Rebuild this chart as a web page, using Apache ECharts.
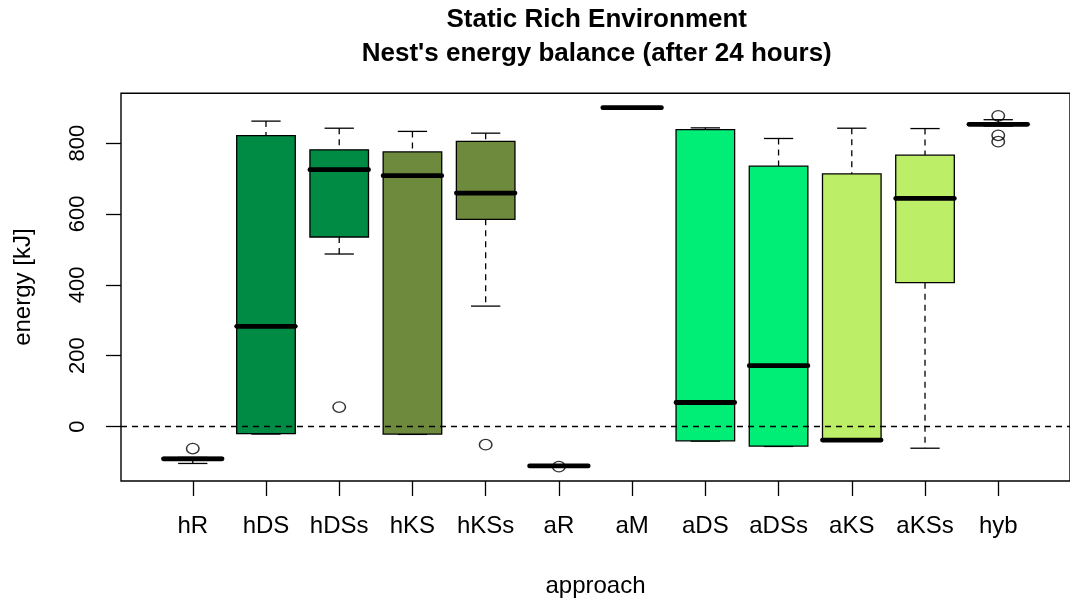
<!DOCTYPE html>
<html><head><meta charset="utf-8">
<script src="https://cdn.jsdelivr.net/npm/echarts@6/dist/echarts.min.js"></script>
<style>html,body{margin:0;padding:0;background:#fff}#c{width:1070px;height:603px}</style>
</head><body><div id="c"></div>
<script>
// ---- data ----
const categories   = ['hR','hDS','hDSs','hKS','hKSs','aR','aM','aDS','aDSs','aKS','aKSs','hyb'];
const whiskerLow   = [-104, -21, 487, -22, 340, -112, 900, -41, -56, -40, -61, 848];
const quartile1    = [ -94, -20, 535, -21, 585, -111.5, 900, -40, -55, -39, 406, 850];
const medianVals   = [ -91, 283, 725, 708, 659, -111, 900,  68, 172, -38, 644, 853];
const quartile3    = [ -87, 821, 781, 775, 805, -110.5, 900, 838, 735, 713, 766, 856];
const whiskerHigh  = [ -87, 862, 842, 833, 828, -110, 900, 843, 813, 842, 841, 866];
const outlierCats  = ['hR','hDSs','hKSs','aR','hyb','hyb','hyb'];
const outlierVals  = [-62, 55, -51, -113, 877, 822, 804];
const yTickValues  = [0, 200, 400, 600, 800];

// ---- styles ----
const boxColors = ['#FFFFFF','#008B45','#008B45','#6E8B3D','#6E8B3D','#FFFFFF','#FFFFFF',
                   '#00EE76','#00EE76','#BCEE68','#BCEE68','#FFFFFF'];
const FONT = "'Liberation Sans', Arial, Helvetica, sans-serif";
const BOX_WEX = 0.8, STAPLE_WEX = 0.5;

const boxData = categories.map((c, i) =>
  [i + 1, whiskerLow[i], quartile1[i], medianVals[i], quartile3[i], whiskerHigh[i]]);
const outlierData = outlierCats.map((c, k) => [categories.indexOf(c) + 1, outlierVals[k]]);

function renderBox(params, api) {
  const i = params.dataIndex;
  const x = api.value(0);
  const pLow = api.coord([x, api.value(1)]);
  const pQ1 = api.coord([x, api.value(2)]);
  const pMed = api.coord([x, api.value(3)]);
  const pQ3 = api.coord([x, api.value(4)]);
  const pHigh = api.coord([x, api.value(5)]);
  const boxW = api.size([BOX_WEX, 0])[0];
  const capW = boxW * STAPLE_WEX;
  const cx = pMed[0];
  const line = (x1, y1, x2, y2, style) => ({type: 'line', shape: {x1, y1, x2, y2}, style});
  const dashed = {stroke: '#000', lineWidth: 1.3, lineDash: [6, 5]};
  const solid = {stroke: '#000', lineWidth: 1.3};
  return {type: 'group', children: [
    line(cx, pHigh[1], cx, pQ3[1], dashed),
    line(cx, pQ1[1], cx, pLow[1], dashed),
    line(cx - capW / 2, pHigh[1], cx + capW / 2, pHigh[1], solid),
    line(cx - capW / 2, pLow[1], cx + capW / 2, pLow[1], solid),
    {type: 'rect', shape: {x: cx - boxW / 2, y: pQ3[1], width: boxW, height: pQ1[1] - pQ3[1]},
     style: {fill: boxColors[i], stroke: '#000', lineWidth: 1.3}},
    line(cx - boxW / 2, pMed[1], cx + boxW / 2, pMed[1], {stroke: '#000', lineWidth: 4.8, lineCap: 'round'})
  ]};
}

const chart = echarts.init(document.getElementById('c'), null, {renderer: 'canvas'});
chart.setOption({
  animation: false,
  backgroundColor: '#fff',
  title: {
    text: "Static Rich Environment\nNest's energy balance (after 24 hours)",
    left: 596.75, top: 3, padding: 0, textAlign: 'center',
    textStyle: {fontFamily: FONT, fontSize: 26, fontWeight: 'bold', color: '#000', lineHeight: 34}
  },
  grid: {left: 121, right: -2.5, top: 93.3, bottom: 120.5, show: true,
         borderColor: '#000', borderWidth: 1.4, backgroundColor: 'transparent'},
  xAxis: {
    type: 'value', min: 0.02, max: 12.98,
    name: 'approach', nameLocation: 'middle', nameGap: 93,
    nameTextStyle: {fontFamily: FONT, fontSize: 24, color: '#000'},
    axisLine: {show: false, onZero: false},
    splitLine: {show: false},
    axisTick: {show: true, length: 15, lineStyle: {color: '#000', width: 1.3},
               customValues: categories.map((c, i) => i + 1)},
    axisLabel: {customValues: categories.map((c, i) => i + 1), margin: 33,
                formatter: v => categories[Math.round(v) - 1],
                fontFamily: FONT, fontSize: 24, color: '#000'}
  },
  yAxis: {
    type: 'value', min: -153.5, max: 940.5,
    name: 'energy [kJ]', nameLocation: 'middle', nameGap: 86,
    nameTextStyle: {fontFamily: FONT, fontSize: 24, color: '#000'},
    axisLine: {show: false, onZero: false},
    splitLine: {show: false},
    axisTick: {show: true, length: 15, lineStyle: {color: '#000', width: 1.3}, customValues: yTickValues},
    axisLabel: {customValues: yTickValues, rotate: 90, margin: 32,
                fontFamily: FONT, fontSize: 22, color: '#000'}
  },
  series: [
    {type: 'custom', renderItem: renderBox, data: boxData, z: 2,
     encode: {x: 0, y: [1, 2, 3, 4, 5]}},
    {type: 'scatter', data: outlierData, z: 3, symbol: 'circle', symbolSize: [12.5, 10.5],
     itemStyle: {color: 'rgba(0,0,0,0)', borderColor: '#000', borderWidth: 1.4},
     markLine: {silent: true, symbol: 'none', label: {show: false},
                lineStyle: {color: '#000', width: 1.3, type: [6, 5]},
                data: [{yAxis: 0}]}}
  ]
});
</script>
</body></html>
